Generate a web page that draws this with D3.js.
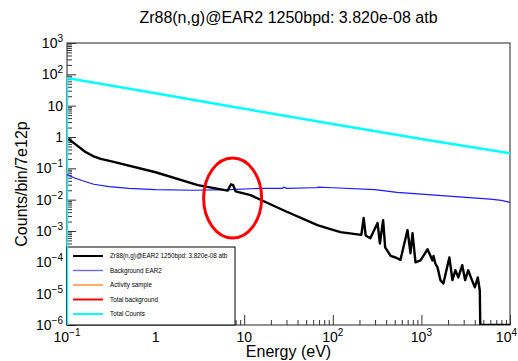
<!DOCTYPE html>
<html>
<head>
<meta charset="utf-8">
<script src="https://cdn.jsdelivr.net/npm/d3@7"></script>
<style>
  body { margin: 0; background: #fff; }
  svg { font-family: "Liberation Sans", Arial, sans-serif; }
</style>
</head>
<body>
<svg id="chart" width="518" height="361"></svg>
<script>
// ---- data ----
let titleText = "Zr88(n,g)@EAR2 1250bpd: 3.820e-08 atb";
let xTitle = "Energy (eV)";
let yTitle = "Counts/bin/7e12p";

let xMajor = [0.1, 1, 10, 100, 1000, 10000];
let xLabels = [["10", "\u22121"], ["1", ""], ["10", ""], ["10", "2"], ["10", "3"], ["10", "4"]];
let yMajor = [1e3, 1e2, 10, 1, 0.1, 1e-2, 1e-3, 1e-4, 1e-5, 1e-6];
let yLabels = [["10", "3"], ["10", "2"], ["10", ""], ["1", ""], ["10", "\u22121"], ["10", "\u22122"],
               ["10", "\u22123"], ["10", "\u22124"], ["10", "\u22125"], ["10", "\u22126"]];

// Total Counts (cyan); first point 0 = histogram edge from the bottom
let totalE = [0.1, 0.1, 1, 10, 100, 1000, 10000];
let totalV = [0, 76, 25, 8.0, 2.6, 0.86, 0.30];

// Background EAR2 (blue)
let bgE = [0.1, 0.12, 0.15, 0.2, 0.3, 0.5, 1, 2.7, 7, 15, 27, 28, 30, 60, 67, 68, 100, 300, 530, 1000, 2900, 6000, 8000, 10000];
let bgV = [0.063, 0.05, 0.04, 0.031, 0.026, 0.023, 0.021, 0.020, 0.021, 0.023, 0.023, 0.025, 0.023, 0.024, 0.024, 0.025, 0.024, 0.021, 0.017, 0.015, 0.012, 0.0104, 0.0095, 0.0082];

// Zr88(n,g) signal (black)
let sigE = [0.104, 0.125, 0.16, 0.2, 0.24, 0.31, 1, 3, 6.5, 7.1, 7.5, 8.0, 11.8, 27.7, 67, 94, 122, 210,
            223, 235, 265, 320, 340, 370, 390, 450, 520, 580, 697, 753, 794, 858, 977, 1172, 1335,
            1370, 1440, 1520, 1640, 1770, 2070, 2240, 2420, 2610, 2890, 3120, 3370, 3720, 4010, 4330,
            4560, 4620, 10000];
let sigV = [0.86, 0.58, 0.34, 0.24, 0.2, 0.17, 0.075, 0.029, 0.0195, 0.031, 0.029, 0.0185, 0.0139, 0.0046, 0.00154, 0.00114, 0.00092, 0.00075,
            0.0026, 0.00072, 0.00059, 0.0018, 0.0004, 0.0022, 0.0003, 0.00016, 0.00014, 0.00012, 0.00107, 0.000195, 0.00085, 0.0001, 0.000115, 0.00026, 0.000115,
            0.00016, 0.00009, 0.000069, 0.000027, 0.000021, 0.000144, 0.000027, 0.000056, 0.000033, 0.000081, 0.000027, 0.000056, 0.000027, 0.000016, 0.000033,
            0.0000126, 0, 0];

let legendNames = ["Zr88(n,g)@EAR2 1250bpd: 3.820e-08 atb", "Background EAR2", "Activity sample", "Total background", "Total Counts"];
let legendColors = ["#000000", "#6060ff", "#ff8020", "#ff0000", "#00ffff"];

// annotation ellipse around the 7 eV bump
let markE = 7.4;
let markV = 0.0112;

// ---- drawing ----
let canvas = d3.select("#chart");
let plotLeft = 67, plotRight = 510, plotTop = 43, plotBottom = 325;

let x = d3.scaleLog().domain([0.1, 10000]).range([plotLeft, plotRight]);
let y = d3.scaleLog().domain([1e-6, 1000]).range([plotBottom, plotTop]);

function minorTicks(lo, hi) {
    let t = [];
    for (let p = lo; p < hi; p++) {
        for (let k = 2; k <= 9; k++) t.push(k * Math.pow(10, p));
    }
    return t;
}

// frame
canvas.append("rect")
    .attr("x", plotLeft).attr("y", plotTop)
    .attr("width", plotRight - plotLeft).attr("height", plotBottom - plotTop)
    .style("fill", "none").style("stroke", "#222").style("stroke-width", 1);

// x axis ticks (inward)
canvas.append("g")
    .attr("transform", "translate(0," + plotBottom + ")")
    .call(d3.axisBottom(x).tickValues(xMajor).tickSize(-10).tickFormat("").tickSizeOuter(0))
    .call(g => g.select(".domain").remove());
canvas.append("g")
    .attr("transform", "translate(0," + plotBottom + ")")
    .call(d3.axisBottom(x).tickValues(minorTicks(-1, 4)).tickSize(-5).tickFormat("").tickSizeOuter(0))
    .call(g => g.select(".domain").remove());

// y axis ticks (inward)
canvas.append("g")
    .attr("transform", "translate(" + plotLeft + ",0)")
    .call(d3.axisLeft(y).tickValues(yMajor).tickSize(-9).tickFormat("").tickSizeOuter(0))
    .call(g => g.select(".domain").remove());
canvas.append("g")
    .attr("transform", "translate(" + plotLeft + ",0)")
    .call(d3.axisLeft(y).tickValues(minorTicks(-6, 3)).tickSize(-5).tickFormat("").tickSizeOuter(0))
    .call(g => g.select(".domain").remove());

canvas.selectAll(".tick line").style("stroke", "#333");

// tick labels
function addLabel(sel, lab) {
    sel.append("tspan").text(lab[0]);
    if (lab[1] !== "") {
        sel.append("tspan").attr("dy", -6).style("font-size", "10px").text(lab[1]);
    }
}

xMajor.forEach((v, i) => {
    let last = i == xMajor.length - 1;
    let t = canvas.append("text")
        .attr("x", last ? 517 : x(v)).attr("y", 342)
        .attr("text-anchor", last ? "end" : "middle")
        .style("font-size", "14px");
    addLabel(t, xLabels[i]);
});

yMajor.forEach((v, i) => {
    let t = canvas.append("text")
        .attr("x", 63).attr("y", y(v) + 5)
        .attr("text-anchor", "end")
        .style("font-size", "14px");
    addLabel(t, yLabels[i]);
});

// titles
canvas.append("text")
    .attr("x", (plotLeft + plotRight) / 2).attr("y", 23)
    .attr("text-anchor", "middle")
    .style("font-size", "16px")
    .text(titleText);

canvas.append("text")
    .attr("x", (plotLeft + plotRight) / 2).attr("y", 357)
    .attr("text-anchor", "middle")
    .style("font-size", "16px")
    .text(xTitle);

canvas.append("text")
    .attr("transform", "translate(27," + ((plotTop + plotBottom) / 2) + ") rotate(-90)")
    .attr("text-anchor", "middle")
    .style("font-size", "16px")
    .text(yTitle);

// legend
let legend = canvas.append("g");
legend.append("rect")
    .attr("x", 67).attr("y", 247)
    .attr("width", 168).attr("height", plotBottom - 247)
    .style("fill", "#fff").style("stroke", "#000").style("stroke-width", 1);

let rowY = d3.scalePoint().domain(legendNames).range([256, 314]);
legendNames.forEach((name, i) => {
    legend.append("line")
        .attr("x1", 73).attr("x2", 103)
        .attr("y1", rowY(name)).attr("y2", rowY(name))
        .style("stroke", legendColors[i])
        .style("stroke-width", i == 1 || i == 2 ? 1.3 : 2);
    legend.append("text")
        .attr("x", 110).attr("y", rowY(name) + 2)
        .style("font-size", "6.3px")
        .text(name);
});

// curves
canvas.append("clipPath").attr("id", "clip")
    .append("rect").attr("x", plotLeft).attr("y", plotTop - 2)
    .attr("width", plotRight - plotLeft + 1).attr("height", plotBottom - plotTop + 2);

let line = d3.line()
    .x(d => x(d[0]))
    .y(d => d[1] > 0 ? y(d[1]) : plotBottom);

let plot = canvas.append("g").attr("clip-path", "url(#clip)");

plot.append("path")
    .datum(d3.zip(totalE, totalV))
    .attr("d", line)
    .style("fill", "none").style("stroke", "#00ffff").style("stroke-width", 2.5);

plot.append("path")
    .datum(d3.zip(bgE, bgV))
    .attr("d", line)
    .style("fill", "none").style("stroke", "#1a1aff").style("stroke-width", 1.2);

plot.append("path")
    .datum(d3.zip(sigE, sigV))
    .attr("d", line)
    .style("fill", "none").style("stroke", "#000").style("stroke-width", 2.4)
    .style("stroke-linejoin", "round");

canvas.append("ellipse")
    .attr("cx", x(markE)).attr("cy", y(markV))
    .attr("rx", 29).attr("ry", 40)
    .style("fill", "none").style("stroke", "#ff0000").style("stroke-width", 3);
</script>
</body>
</html>
